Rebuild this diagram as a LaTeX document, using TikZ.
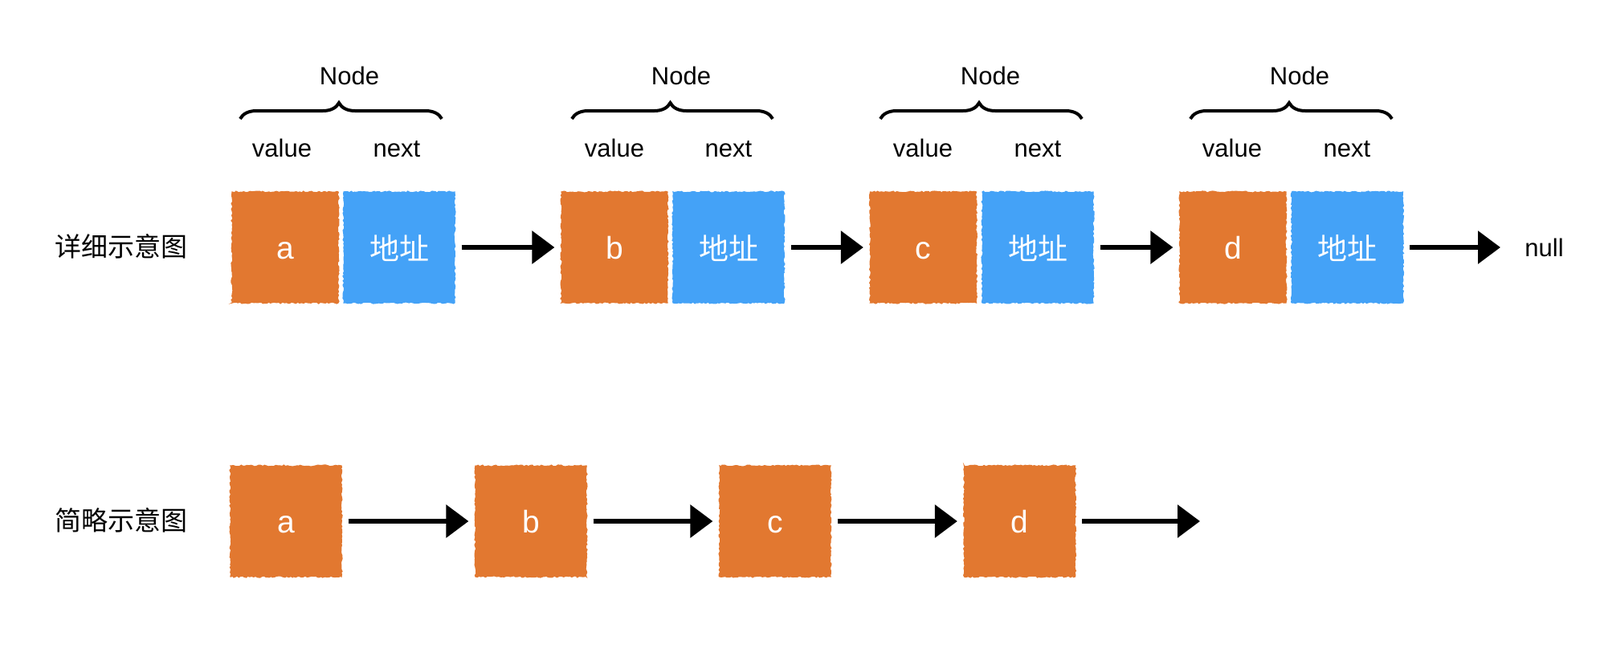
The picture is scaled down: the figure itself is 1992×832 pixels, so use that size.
\documentclass[tikz,border=0pt]{standalone}
\usepackage{fontspec}
\setmainfont{Liberation Sans}
\newfontfamily\cjk{Noto Sans CJK SC}
\usetikzlibrary{arrows.meta,decorations.pathmorphing,decorations.pathreplacing}
\definecolor{boxorange}{HTML}{E27830}
\definecolor{boxblue}{HTML}{44A2F7}
\tikzset{
  rough/.style={decorate,decoration={random steps,segment length=1.2pt,amplitude=0.5pt}},
  valbox/.style={fill=boxorange,draw=boxorange,line width=0.6pt,rough,minimum width=66pt,minimum height=69pt,inner sep=0pt,text=white,text height=14pt,text depth=0pt,font=\fontsize{19.5}{22}\selectfont},
  addrbox/.style={fill=boxblue,draw=boxblue,line width=0.6pt,rough,minimum width=69pt,minimum height=69pt,inner sep=0pt,text=white,text height=15pt,text depth=0pt,font=\cjk\fontsize{18.5}{22}\selectfont},
  sqbox/.style={valbox,minimum width=69pt},
  lbl/.style={font=\fontsize{15.5}{18}\selectfont,inner sep=0pt,anchor=base},
  rowlbl/.style={font=\cjk\fontsize{16.5}{20}\selectfont,inner sep=0pt},
  linkarrow/.style={line width=3pt,-{Triangle[length=14pt,width=20pt]},shorten <=4pt,shorten >=4pt},
  nodebrace/.style={decorate,decoration={brace,amplitude=10pt,aspect=0.49},line width=2pt}
}
\begin{document}
\begin{tikzpicture}[x=0.5pt,y=-0.5pt]
\useasboundingbox (0,0) rectangle (1992,832);
% detailed row
\node[rowlbl] (lbl1) at (151,307) {详细示意图};
\node[valbox] (va) at (355,308) {a};
\node[addrbox] (na) at (497,308) {地址};
\node[valbox] (vb) at (765,308) {b};
\node[addrbox] (nb) at (907,308) {地址};
\node[valbox] (vc) at (1149.5,308) {c};
\node[addrbox] (nc) at (1292,308) {地址};
\node[valbox] (vd) at (1535,308) {d};
\node[addrbox] (nd) at (1677.5,308) {地址};
\node[font=\fontsize{15.5}{18}\selectfont,inner sep=0pt,anchor=west] (null) at (1898,308) {null};
\draw[linkarrow] (na.east) -- (vb.west);
\draw[linkarrow] (nb.east) -- (vc.west);
\draw[linkarrow] (nc.east) -- (vd.west);
\draw[linkarrow,shorten >=15pt] (nd.east) -- (null.west);
% headers
\foreach \n/\v/\x/\l/\r in {435/351/494/299/550, 848/765/907/712/962, 1233/1149/1292/1096/1347, 1618/1534/1677/1482/1733}{
  \node[lbl] at (\n,105) {Node};
  \node[lbl] at (\v,195) {value};
  \node[lbl] at (\x,195) {next};
  \draw[nodebrace] (\l,148) -- (\r,148);
}
% simple row
\node[rowlbl] (lbl2) at (151,648) {简略示意图};
\node[sqbox] (sa) at (356,649) {a};
\node[sqbox] (sb) at (661,649) {b};
\node[sqbox] (sc) at (965,649) {c};
\node[sqbox] (sd) at (1269.5,649) {d};
\coordinate (send) at (1494,649);
\draw[linkarrow] (sa.east) -- (sb.west);
\draw[linkarrow] (sb.east) -- (sc.west);
\draw[linkarrow] (sc.east) -- (sd.west);
\draw[linkarrow,shorten >=0pt] (sd.east) -- (send);
\end{tikzpicture}
\end{document}
